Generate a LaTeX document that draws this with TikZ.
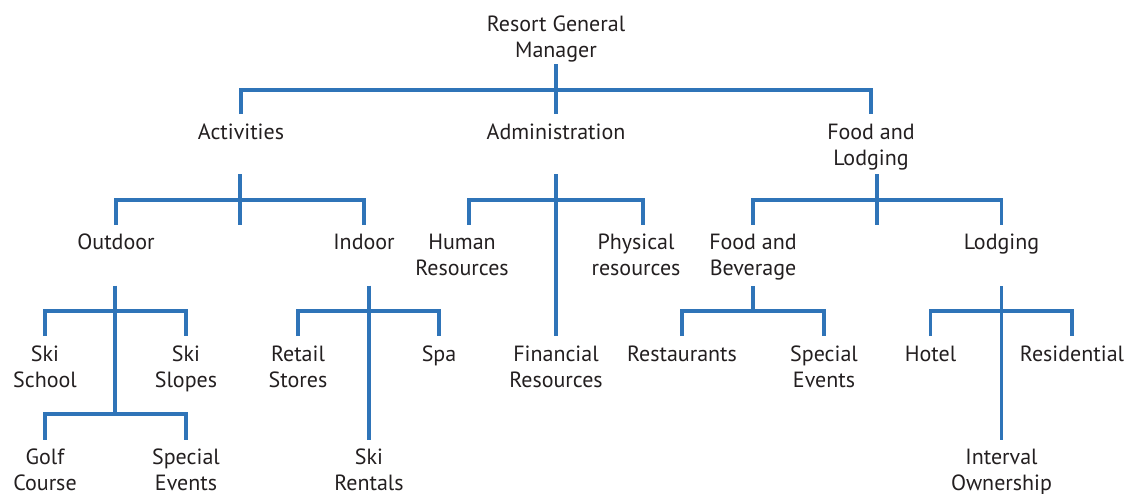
\documentclass[tikz,border=0pt]{standalone}
\usepackage{fontspec}
\setmainfont{PT Sans}
\usepackage{tikz}
\usetikzlibrary{calc}
\definecolor{linkblue}{HTML}{2F74B8}
\definecolor{textdark}{HTML}{231F20}
\newcommand{\toprow}{\rule{0pt}{25pt}}
\tikzstyle{unit} = [anchor=north, inner sep=0pt, align=center, text=textdark, font=\fontsize{22}{26}\selectfont]
\tikzstyle{link} = [line width=3.6pt, color=linkblue]

\begin{document}
\begin{tikzpicture}[x=1pt, y=-1pt]
    \useasboundingbox (0,0) rectangle (1129,493);
    % top two levels
    \node[unit] (gm) at (556,6) {\toprow Resort General\\Manager};
    \node[unit] (act) at (241,114) {\toprow Activities};
    \node[unit] (adm) at (556,114) {\toprow Administration};
    \node[unit] (fl) at (871,114) {\toprow Food and\\Lodging};

    \node[unit] (out) at (116,224.5) {\toprow Outdoor};
    \node[unit] (ind) at (364,224.5) {\toprow Indoor};
    \node[unit] (hr) at (462,224.5) {\toprow Human\\Resources};
    \node[unit] (pr) at (636,224.5) {\toprow Physical\\resources};
    \node[unit] (fb) at (753,224.5) {\toprow Food and\\Beverage};
    \node[unit] (lod) at (1001.5,224.5) {\toprow Lodging};

    \node[unit] (ss) at (45,336) {\toprow Ski\\School};
    \node[unit] (sl) at (186,336) {\toprow Ski\\Slopes};
    \node[unit] (rs) at (298,336) {\toprow Retail\\Stores};
    \node[unit] (spa) at (439,336) {\toprow Spa};
    \node[unit] (fin) at (556,336) {\toprow Financial\\Resources};
    \node[unit] (rest) at (682,336) {\toprow Restaurants};
    \node[unit] (se2) at (824,336) {\toprow Special\\Events};
    \node[unit] (hot) at (930.5,336) {\toprow Hotel};
    \node[unit] (res) at (1072,336) {\toprow Residential};

    \node[unit] (golf) at (45,439.5) {\toprow Golf\\Course};
    \node[unit] (se1) at (186,439.5) {\toprow Special\\Events};
    \node[unit] (sr) at (369,439.5) {\toprow Ski\\Rentals};
    \node[unit] (io) at (1001.5,439.5) {\toprow Interval\\Ownership};

    % junctions
    \coordinate (gmj) at (556,64);     \coordinate (gmbar) at (556,90);
    \coordinate (actj) at (240,174);   \coordinate (actbar) at (240,200);
    \coordinate (admj) at (556,174);   \coordinate (admbar) at (556,200);
    \coordinate (flj) at (877,174);    \coordinate (flbar) at (877,200);
    \coordinate (outj) at (115,285.5); \coordinate (outbar) at (115,311);
    \coordinate (outbar2) at (115,414);
    \coordinate (indj) at (369,285.5); \coordinate (indbar) at (369,311);
    \coordinate (fbj) at (753,286);    \coordinate (fbbar) at (753,311);
    \coordinate (lodj) at (1001.5,286); \coordinate (lodbar) at (1001.5,311);

    % resort general manager
    \draw[link] (gmj) -- (adm.north);
    \draw[link] (act.north) |- (gmbar) -| (fl.north);
    % activities
    \draw[link] (actj) -- (actj |- out.north);
    \draw[link] (out.north) |- (actbar) -| (ind.north);
    % administration
    \draw[link] (admj) -- (fin.north);
    \draw[link] ([xshift=7pt]hr.north) |- (admbar) -| ([xshift=7pt]pr.north);
    % food and lodging
    \draw[link] (flj) -- (flj |- fb.north);
    \draw[link] (fb.north) |- (flbar) -| (lod.north);
    % outdoor
    \draw[link] (outj) -- (outbar2);
    \draw[link] (ss.north) |- (outbar) -| (sl.north);
    \draw[link] (golf.north) |- (outbar2) -| (se1.north);
    % indoor
    \draw[link] (indj) -- (sr.north);
    \draw[link] (rs.north) |- (indbar) -| (spa.north);
    % food and beverage
    \draw[link] (fbj) -- (fbbar);
    \draw[link] (rest.north) |- (fbbar) -| (se2.north);
    % lodging
    \draw[link] (lodj) -- (io.north);
    \draw[link] (hot.north) |- (lodbar) -| (res.north);
\end{tikzpicture}
\end{document}
